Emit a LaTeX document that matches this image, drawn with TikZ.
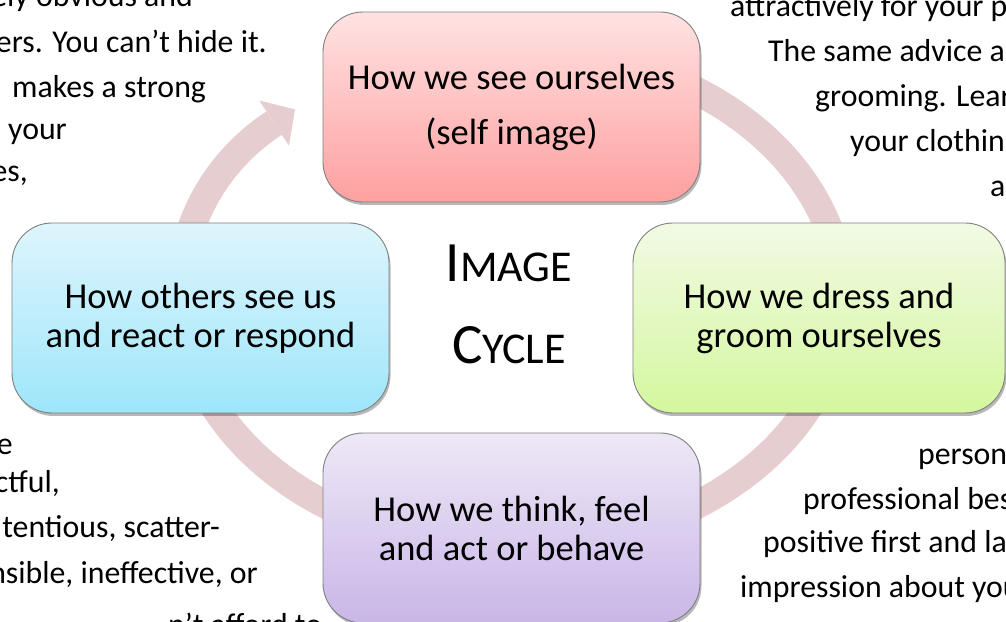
\documentclass[tikz,border=0pt]{standalone}
\usepackage{fontspec}
\setmainfont{Carlito}
\usetikzlibrary{arrows.meta,shadows,calc}
\definecolor{ringc}{RGB}{230,205,207}
\definecolor{boxline}{RGB}{128,128,128}
\definecolor{redT}{RGB}{255,226,226}\definecolor{redB}{RGB}{254,160,160}
\definecolor{bluT}{RGB}{222,245,252}\definecolor{bluB}{RGB}{158,230,251}
\definecolor{grnT}{RGB}{242,250,228}\definecolor{grnB}{RGB}{212,247,158}
\definecolor{vioT}{RGB}{238,232,246}\definecolor{vioB}{RGB}{201,182,232}
\begin{document}
\begin{tikzpicture}[x=1pt,y=1pt,
  cyclebox/.style={draw=boxline, line width=0.9pt, rounded corners=40pt,
    minimum width=377pt, minimum height=190pt, align=center, inner sep=0pt,
    font=\fontsize{36.5}{39}\selectfont,
    drop shadow={shadow xshift=1.5pt, shadow yshift=-3pt, opacity=0.28, fill=black}},
  para/.style={font=\fontsize{31.8}{44}\selectfont, inner sep=0pt, text=black},
  ring/.style={draw=ringc, line width=28pt}]
\useasboundingbox (0,0) rectangle (1006,621);
\clip (0,0) rectangle (1006,621);

% background paragraph text
\node[para, anchor=base east] (p1) at (193,614) {ely obvious and};
\node[para, anchor=base east] (p2) at (267,568) {ers. You can’t hide it.};
\node[para, anchor=base west] (p3) at (12,523) {makes a strong};
\node[para, anchor=base west] (p4) at (8,481) {your};
\node[para, anchor=base east] (p5) at (28,439) {es,};

\node[para, anchor=base west] (q1) at (730,604) {attractively for your p};
\node[para, anchor=base west] (q2) at (768,559) {The same advice a};
\node[para, anchor=base west] (q3) at (815,514) {grooming. Lear};
\node[para, anchor=base west] (q4) at (850,469) {your clothin};
\node[para, anchor=base west] (q5) at (990,424) {a};

\node[para, anchor=base east] (r1) at (13,166) {e};
\node[para, anchor=base east] (r2) at (60,128) {ctful,};
\node[para, anchor=base east] (r3) at (220,83) {tentious, scatter-};
\node[para, anchor=base east] (r4) at (258,38) {nsible, ineffective, or};
\node[para, anchor=base west] (r5) at (168,-14) {n’t afford to};

\node[para, anchor=base west] (s1) at (918,156) {person};
\node[para, anchor=base west] (s2) at (803,111) {professional bes};
\node[para, anchor=base west] (s3) at (763,68) {positive first and la};
\node[para, anchor=base west] (s4) at (740,24) {impression about you};

% ring with arrow
\coordinate (rc) at (511.5,323);
\draw[ring, -{Triangle[width=54pt,length=25pt,line width=0pt]}]
  ($(rc)+(120:330 and 250)$) arc[start angle=120, end angle=-229, x radius=330, y radius=250];

% boxes
\node[cyclebox, top color=redT, bottom color=redB, font=\fontsize{36.5}{55}\selectfont] (top) at (511.5,514) {How we see ourselves\\(self image)};
\node[cyclebox, top color=bluT, bottom color=bluB] (left) at (200.5,303) {How others see us\\and react or respond};
\node[cyclebox, top color=grnT, bottom color=grnB, minimum width=372pt] (right) at (819,303) {How we dress and\\groom ourselves};
\node[cyclebox, top color=vioT, bottom color=vioB] (bottom) at (511.5,93) {How we think, feel\\and act or behave};

% title
\node[inner sep=0pt, align=center, font=\fontsize{44}{82.3}\selectfont] (title) at (509,316.5)
  {{\fontsize{57}{82.3}\selectfont I}MAGE\\{\fontsize{57}{82.3}\selectfont C}YCLE};
\end{tikzpicture}
\end{document}
